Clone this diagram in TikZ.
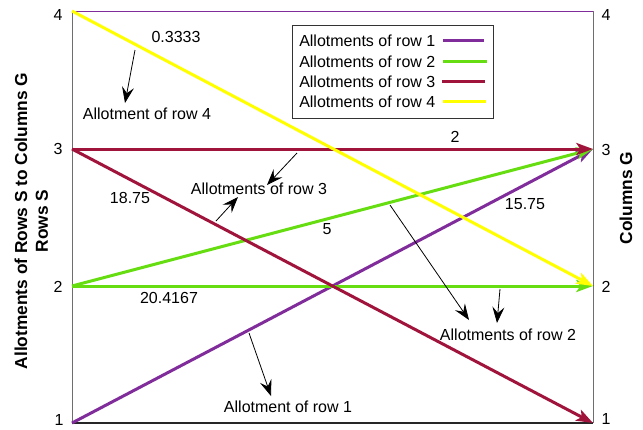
\documentclass[tikz,border=0pt]{standalone}
\usepackage{fontspec}
\setmainfont{Liberation Sans}
\usetikzlibrary{arrows.meta}
\definecolor{cpurple}{RGB}{128,45,155}
\definecolor{cgreen}{RGB}{102,221,17}
\definecolor{cred}{RGB}{160,20,60}
\definecolor{cyellow}{RGB}{255,255,0}
\definecolor{axisgray}{RGB}{110,110,110}
\begin{document}
\begin{tikzpicture}[x=0.75pt,y=-0.75pt,
  conn/.style={line width=2.25pt,-{Stealth[length=12.5pt,width=9pt,inset=3pt]}},
  note/.style={line width=0.6pt,-{Stealth[length=12pt,width=9pt,inset=4.5pt]}},
  lbl/.style={font=\fontsize{12}{14}\selectfont, inner sep=0pt},
  ticklbl/.style={font=\fontsize{12}{14}\selectfont, inner sep=0pt},
  ttl/.style={font=\bfseries\fontsize{13}{15}\selectfont, inner sep=0pt, rotate=90},
  legline/.style={line width=2.25pt}]
\fill[white] (0,0) rectangle (643,429);
\useasboundingbox (0,0) rectangle (643,429);
% endpoints
\coordinate (L4) at (72,11);
\coordinate (L3) at (72,149);
\coordinate (L2) at (72,286);
\coordinate (L1) at (72,423);
\coordinate (R4) at (593,11);
\coordinate (R3) at (593,149);
\coordinate (R2) at (593,286);
\coordinate (R1) at (593,423);
% frame
\draw[axisgray, line width=0.75pt] (L4) -- (L1);
\draw[axisgray, line width=0.75pt] (R4) -- (R1);
\draw[black!85, line width=0.9pt] (L1) -- (R1);
\draw[cpurple, line width=0.75pt] (L4) -- (R4);
% tick labels
\node[ticklbl] (t4l) at (58,15) {4};
\node[ticklbl] (t3l) at (58,149) {3};
\node[ticklbl] (t2l) at (58,287) {2};
\node[ticklbl] (t1l) at (59,420) {1};
\node[ticklbl] (t4r) at (606,15) {4};
\node[ticklbl] (t3r) at (606,150) {3};
\node[ticklbl] (t2r) at (606,287) {2};
\node[ticklbl] (t1r) at (606,419) {1};
% titles
\node[ttl] (ytitle) at (21,221) {Allotments of Rows S to Columns G};
\node[ttl] (ytitle2) at (42,221) {Rows S};
\node[ttl] (y2title) at (626,198) {Columns G};
% allotment lines
\draw[conn, cpurple] (L1) -- (R3);
\draw[conn, cgreen] (L2) -- (R3);
\draw[conn, cgreen] (L2) -- (R2);
\draw[conn, cred] (L3) -- (R3);
\draw[conn, cred] (L3) -- (R1);
\draw[conn, cyellow] (L4) -- (R2);
% value labels
\node[lbl] (v4) at (176,37) {0.3333};
\node[lbl] (v33) at (455,137) {2};
\node[lbl] (v31) at (130,198) {18.75};
\node[lbl] (v23) at (327,229) {5};
\node[lbl] (v13) at (525,204) {15.75};
\node[lbl] (v22) at (169,298) {20.4167};
% annotation labels
\node[lbl] (a4) at (147,114) {Allotment of row 4};
\node[lbl] (a3) at (259,189) {Allotments of row 3};
\node[lbl] (a2) at (508,335) {Allotments of row 2};
\node[lbl] (a1) at (288,407) {Allotment of row 1};
% annotation arrows
\coordinate (a4s) at (135,50);
\coordinate (a4t) at (125,103);
\draw[note] (a4s) -- (a4t);
\coordinate (a3s1) at (297,153);
\coordinate (a3t1) at (267,185);
\draw[note] (a3s1) -- (a3t1);
\coordinate (a3s2) at (216,221);
\coordinate (a3t2) at (238,197);
\draw[note] (a3s2) -- (a3t2);
\coordinate (a2s1) at (390,205);
\coordinate (a2t1) at (469,320);
\draw[note] (a2s1) -- (a2t1);
\coordinate (a2s2) at (500,289);
\coordinate (a2t2) at (497,323);
\draw[note] (a2s2) -- (a2t2);
\coordinate (a1s) at (249,333);
\coordinate (a1t) at (271,396);
\draw[note] (a1s) -- (a1t);
% legend
\node[draw=black!80, line width=0.75pt, minimum width=201*0.75pt, minimum height=93*0.75pt, inner sep=0pt, anchor=north west] (legend) at (292,25) {};
\node[lbl, anchor=west] (lg1) at (299,41) {Allotments of row 1};
\node[lbl, anchor=west] (lg2) at (299,62) {Allotments of row 2};
\node[lbl, anchor=west] (lg3) at (299,82) {Allotments of row 3};
\node[lbl, anchor=west] (lg4) at (299,102) {Allotments of row 4};
\coordinate (k1a) at (443,40); \coordinate (k1b) at (484,40);
\coordinate (k2a) at (443,61); \coordinate (k2b) at (487,61);
\coordinate (k3a) at (442,81); \coordinate (k3b) at (485,81);
\coordinate (k4a) at (443,101); \coordinate (k4b) at (486,101);
\draw[legline, cpurple] (k1a) -- (k1b);
\draw[legline, cgreen] (k2a) -- (k2b);
\draw[legline, cred] (k3a) -- (k3b);
\draw[legline, cyellow] (k4a) -- (k4b);
\end{tikzpicture}
\end{document}
